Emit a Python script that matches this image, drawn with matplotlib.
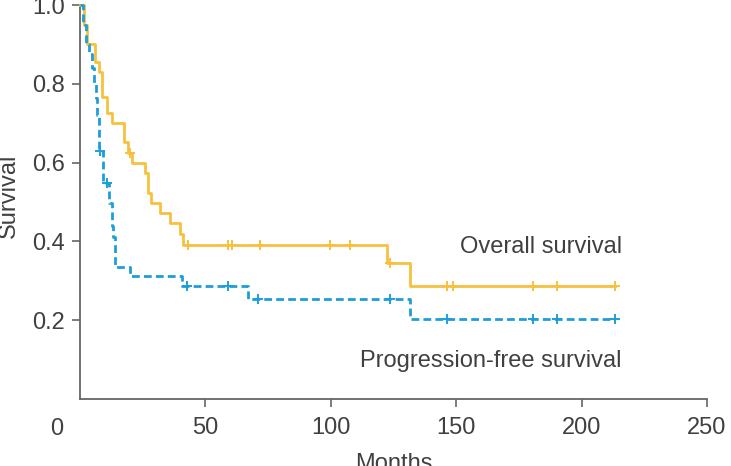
import numpy as np
import matplotlib
matplotlib.use("Agg")
import matplotlib.pyplot as plt

# ---- data ----
os_times = [0, 1.4, 2.6, 6.0, 7.7, 8.6, 10.6, 12.6, 17.5, 19.3, 20.6, 25.9, 27.2, 28.2,
            31.9, 35.9, 39.9, 41.2, 122.5, 131.6, 213.3]
os_surv = [1.0, 0.95, 0.90, 0.855, 0.83, 0.767, 0.725, 0.70, 0.652, 0.625, 0.60, 0.573,
           0.522, 0.497, 0.471, 0.446, 0.42, 0.39, 0.346, 0.288, 0.288]
os_censor = [19.9, 43.2, 59.1, 60.5, 71.8, 99.7, 107.7, 123.6, 146.2, 148.8, 180.7, 190.0, 213.3]

pfs_times = [0, 1.2, 2.5, 3.4, 4.6, 5.5, 6.2, 6.8, 7.4, 9.0, 11.5, 12.6, 13.3, 14.0,
             20.0, 40.5, 67.0, 131.6, 213.3]
pfs_surv = [1.0, 0.95, 0.90, 0.875, 0.84, 0.80, 0.765, 0.72, 0.63, 0.548, 0.497, 0.44,
            0.41, 0.336, 0.312, 0.286, 0.255, 0.204, 0.204]
pfs_censor = [8.0, 10.7, 42.5, 59.1, 71.1, 123.6, 146.2, 180.7, 190.0, 213.3]

x_ticks = [50, 100, 150, 200, 250]
y_ticks = [0.2, 0.4, 0.6, 0.8, 1.0]
x_label = "Months"
y_label = "Survival"
os_name = "Overall survival"
pfs_name = "Progression-free survival"

OS_COLOR = "#F7C13E"
PFS_COLOR = "#1E9ED9"
AX_COLOR = "#666666"
TXT_COLOR = "#404040"

plt.rcParams['font.family'] = ['Liberation Sans', 'DejaVu Sans']


def step_value(times, surv, t):
    idx = np.searchsorted(np.asarray(times), t, side='right') - 1
    return np.asarray(surv)[idx]


fig = plt.figure(figsize=(7.31, 4.66), dpi=100)
ax = fig.add_axes([80 / 731, 1 - 399 / 466, 627 / 731, 394 / 466])

ax.step(os_times, os_surv, where='post', color=OS_COLOR, lw=2.0, clip_on=False, zorder=3)
ax.plot(os_censor, step_value(os_times, os_surv, os_censor), ls='none', marker='+',
        ms=6.5, mew=1.4, color=OS_COLOR, clip_on=False, zorder=3)

ax.step(pfs_times, pfs_surv, where='post', color=PFS_COLOR, lw=2.0,
        ls=(0, (2.8, 1.5)), clip_on=False, zorder=4)
ax.plot(pfs_censor, step_value(pfs_times, pfs_surv, pfs_censor), ls='none', marker='+',
        ms=6.5, mew=1.4, color=PFS_COLOR, clip_on=False, zorder=4)

ax.set_xlim(0, 250)
ax.set_ylim(0, 1.0)
ax.set_xticks(x_ticks)
ax.set_yticks(y_ticks)
ax.set_yticklabels([f"{v:.1f}" for v in y_ticks])

for s in ['top', 'right']:
    ax.spines[s].set_visible(False)
for s in ['left', 'bottom']:
    ax.spines[s].set_color(AX_COLOR)
    ax.spines[s].set_linewidth(1.3)

ax.tick_params(axis='both', direction='out', length=6, width=1.2, color=AX_COLOR,
               labelcolor=TXT_COLOR, labelsize=17)
ax.tick_params(axis='x', pad=7)
ax.tick_params(axis='y', pad=5)

ax.annotate("0", xy=(0, 0), xycoords='data', xytext=(-23, -19), textcoords='offset pixels',
            ha='center', va='top', fontsize=17, color=TXT_COLOR)

ax.set_xlabel(x_label, fontsize=17, color=TXT_COLOR)
ax.xaxis.set_label_coords(0.5, -0.138)
ax.set_ylabel(y_label, fontsize=17, color=TXT_COLOR)
ax.yaxis.set_label_coords(-0.096, 0.515)

ax.text(216.1, 0.3706, os_name, ha='right', va='baseline', fontsize=17, color=TXT_COLOR)
ax.text(216.1, 0.082, pfs_name, ha='right', va='baseline', fontsize=17, color=TXT_COLOR)

fig.savefig("out.png", dpi=100)
